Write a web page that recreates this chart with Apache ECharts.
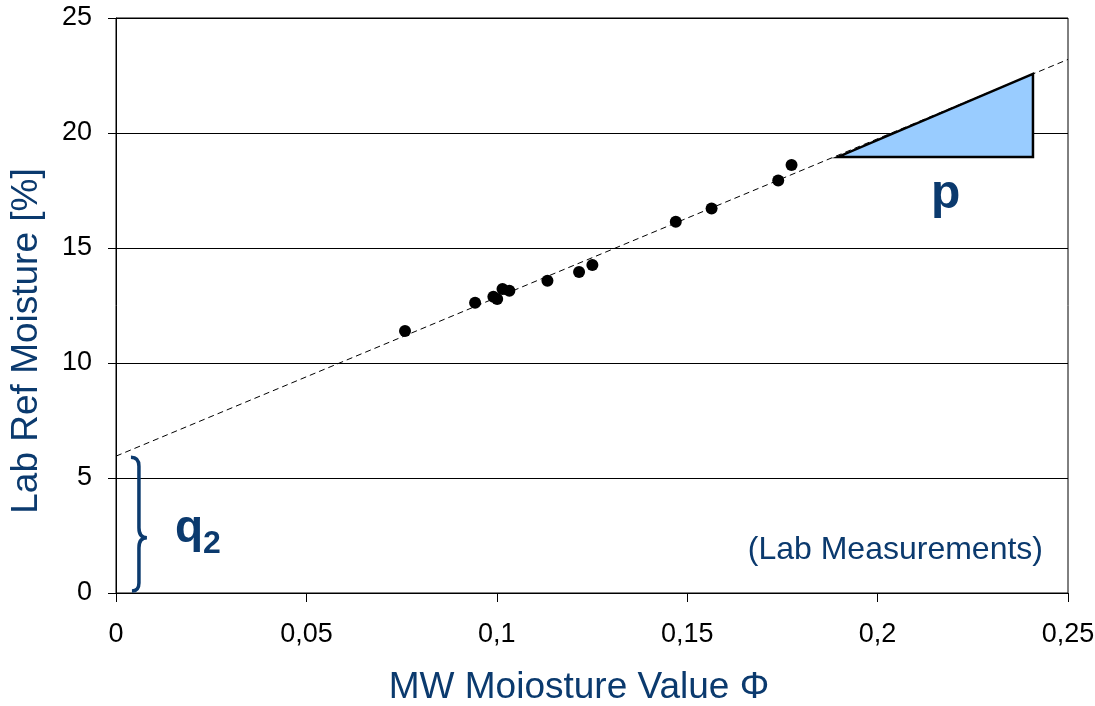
<!DOCTYPE html>
<html>
<head>
<meta charset="utf-8">
<script src="https://cdn.jsdelivr.net/npm/echarts@6/dist/echarts.min.js"></script>
<style>
  html, body { margin: 0; padding: 0; background: #fff; }
  #main { width: 1095px; height: 706px; }
</style>
</head>
<body>
<div id="main"></div>
<script>
// lab measurements (MW value, lab moisture %)
var labX = [0.0759, 0.0943, 0.0991, 0.1001, 0.1015, 0.1033, 0.1133, 0.1216, 0.1251, 0.1470, 0.1564, 0.1739, 0.1774];
var labY = [11.39, 12.62, 12.88, 12.78, 13.22, 13.14, 13.58, 13.96, 14.26, 16.14, 16.72, 17.93, 18.61];
// fitted line end points
var fitX = [0, 0.25];
var fitY = [5.95, 23.2];
// slope triangle p
var triX = [0.1896, 0.2408, 0.2408];
var triY = [18.96, 18.96, 22.57];
// brace for intercept q2: x, bottom, tip, top
var braceX = 0.0055;
var braceY = [0, 2.4, 5.95];
var xTicks = [0, 0.05, 0.1, 0.15, 0.2, 0.25];
var yTicks = [0, 5, 10, 15, 20, 25];

var navy = '#0B3A6E';
var chart = echarts.init(document.getElementById('main'));

var points = labX.map(function (x, i) { return [x, labY[i]]; });
var fit = fitX.map(function (x, i) { return [x, fitY[i]]; });
var tri = triX.map(function (x, i) { return [x, triY[i]]; });

chart.setOption({
  animation: false,
  grid: {
    left: 116, right: 27, top: 18, bottom: 113,
    outerBoundsMode: 'none', containLabel: false,
    show: true, borderColor: '#000', borderWidth: 1
  },
  xAxis: {
    type: 'value', min: 0, max: 0.25, interval: 0.05,
    axisLine: { show: true, lineStyle: { color: '#000', width: 1 } },
    axisTick: { show: true, inside: false, length: 9, lineStyle: { color: '#000' } },
    axisLabel: {
      margin: 28, color: '#000', fontSize: 27, fontFamily: 'Liberation Sans',
      formatter: function (v) { return String(+v.toFixed(2)).replace('.', ','); }
    },
    splitLine: { show: false }
  },
  yAxis: {
    type: 'value', min: 0, max: 25, interval: 5,
    axisLine: { show: true, lineStyle: { color: '#000', width: 1 } },
    axisTick: { show: true, inside: false, length: 8, lineStyle: { color: '#000' } },
    axisLabel: { margin: 24, color: '#000', fontSize: 27, fontFamily: 'Liberation Sans' },
    splitLine: { show: true, lineStyle: { color: '#000', width: 1 } }
  },
  series: [
    {
      type: 'custom',
      data: [tri],
      z: 3,
      renderItem: function (params, api) {
        var pts = tri.map(function (d) { return api.coord(d); });
        return {
          type: 'polygon',
          shape: { points: pts },
          style: { fill: '#99CCFF', stroke: '#000', lineWidth: 2.5 }
        };
      }
    },
    {
      type: 'line',
      data: fit,
      symbol: 'none',
      z: 4,
      lineStyle: { color: '#000', width: 1, type: [6, 4] }
    },
    {
      type: 'scatter',
      data: points,
      symbolSize: 12,
      z: 5,
      itemStyle: { color: '#000', opacity: 1 }
    },
    {
      type: 'custom',
      data: [[braceX, braceY[0]]],
      z: 5,
      renderItem: function (params, api) {
        var b = api.coord([braceX, braceY[0]]);
        var m = api.coord([braceX, braceY[1]]);
        var t = api.coord([braceX, braceY[2]]);
        var x = b[0] + 2, xl = x - 8, xr = x + 8;
        var d = 'M' + xl + ' ' + (t[1] + 1) +
          ' Q' + x + ' ' + (t[1] + 1) + ' ' + x + ' ' + (t[1] + 10) +
          ' L' + x + ' ' + (m[1] - 10) +
          ' Q' + x + ' ' + m[1] + ' ' + xr + ' ' + m[1] +
          ' Q' + x + ' ' + m[1] + ' ' + x + ' ' + (m[1] + 10) +
          ' L' + x + ' ' + (b[1] - 10) +
          ' Q' + x + ' ' + (b[1] - 2) + ' ' + (xl + 1) + ' ' + (b[1] - 2);
        return {
          type: 'path',
          shape: { pathData: d },
          style: { fill: 'none', stroke: navy, lineWidth: 3.5 }
        };
      }
    }
  ],
  graphic: [
    {
      type: 'text', x: 27, y: 341, rotation: Math.PI / 2,
      style: {
        text: 'Lab Ref Moisture [%]', fill: navy, font: '37px "Liberation Sans"',
        align: 'center', verticalAlign: 'middle'
      }
    },
    {
      type: 'text', x: 579, y: 688,
      style: {
        text: 'MW Moiosture Value \u03A6', fill: navy, font: '37px "Liberation Sans"',
        align: 'center', verticalAlign: 'middle'
      }
    },
    {
      type: 'text', left: 931, top: 171,
      style: { text: 'p', fill: navy, font: 'bold 48px "Liberation Sans"' }
    },
    {
      type: 'text', left: 175, top: 506,
      style: {
        text: '{q|q}{s|2}',
        rich: {
          q: { fill: navy, font: 'bold 46px "Liberation Sans"', verticalAlign: 'bottom' },
          s: { fill: navy, font: 'bold 32px "Liberation Sans"', verticalAlign: 'bottom', padding: [0, 0, -8, 0] }
        }
      }
    },
    {
      type: 'text', x: 1043, y: 550,
      style: {
        text: '(Lab Measurements)', fill: navy, font: '32px "Liberation Sans"',
        align: 'right', verticalAlign: 'middle'
      }
    }
  ]
});
</script>
</body>
</html>
